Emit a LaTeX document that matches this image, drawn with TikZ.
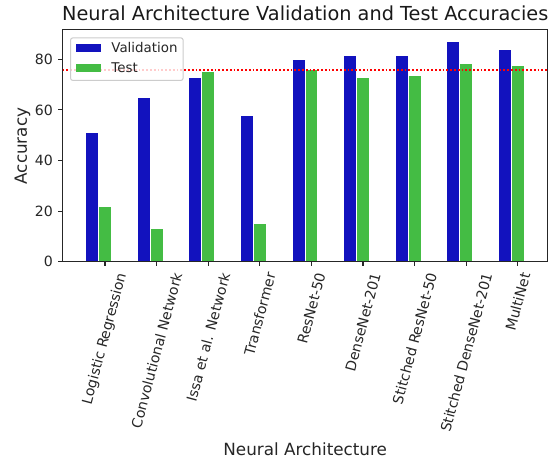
\documentclass[tikz,border=0pt]{standalone}
\usepackage{fontspec}
\setmainfont{DejaVu Sans}
\usepackage{xcolor}
\usetikzlibrary{positioning}

\definecolor{valblue}{RGB}{18,18,190}
\definecolor{testgreen}{RGB}{68,188,68}

\begin{document}
\begin{tikzpicture}[x=51.6pt, y=2.53pt,
    valbar/.style={fill=valblue, draw=white, line width=0.9pt},
    testbar/.style={fill=testgreen, draw=white, line width=0.9pt},
    axline/.style={line width=1.07pt, black!85},
    ticklab/.style={inner sep=0pt, text=black!85, font=\fontsize{14.1}{16}\selectfont},
    axlab/.style={inner sep=0pt, text=black!85, font=\fontsize{16.8}{20}\selectfont},
    legpatch/.style={minimum width=24.7pt, minimum height=7.4pt, inner sep=0pt},
    legtext/.style={inner sep=0pt, text=black!85, font=\fontsize{13.4}{16}\selectfont}]
    \useasboundingbox (-105pt,-198.3pt) rectangle (448pt,261.7pt);

    % validation bars (left) and test bars (right)
    \draw[valbar] (-0.375,0) rectangle (-0.125,51);
    \draw[testbar] (-0.125,0) rectangle (0.125,22);
    \draw[valbar] (0.625,0) rectangle (0.875,65);
    \draw[testbar] (0.875,0) rectangle (1.125,13);
    \draw[valbar] (1.625,0) rectangle (1.875,73);
    \draw[testbar] (1.875,0) rectangle (2.125,75);
    \draw[valbar] (2.625,0) rectangle (2.875,58);
    \draw[testbar] (2.875,0) rectangle (3.125,15);
    \draw[valbar] (3.625,0) rectangle (3.875,80);
    \draw[testbar] (3.875,0) rectangle (4.125,75.8);
    \draw[valbar] (4.625,0) rectangle (4.875,81.5);
    \draw[testbar] (4.875,0) rectangle (5.125,73);
    \draw[valbar] (5.625,0) rectangle (5.875,81.5);
    \draw[testbar] (5.875,0) rectangle (6.125,73.5);
    \draw[valbar] (6.625,0) rectangle (6.875,87);
    \draw[testbar] (6.875,0) rectangle (7.125,78.5);
    \draw[valbar] (7.625,0) rectangle (7.875,84);
    \draw[testbar] (7.875,0) rectangle (8.125,77.5);

    % dotted reference line
    \coordinate (refL) at (-0.82,75.6);
    \coordinate (refR) at (8.58,75.6);
    \draw[red, line width=1.9pt, dash pattern=on 1.7pt off 2.1pt] (refL) -- (refR);

    % frame
    \coordinate (ll) at (-0.82,0);
    \coordinate (ur) at (8.58,91.6);
    \draw[axline] (ll) rectangle (ur);

    % y ticks
    \draw[axline] (-0.82,0) -- ++(-4.7pt,0) node[ticklab, left=4.7pt] (y0) {0};
    \draw[axline] (-0.82,20) -- ++(-4.7pt,0) node[ticklab, left=4.7pt] (y20) {20};
    \draw[axline] (-0.82,40) -- ++(-4.7pt,0) node[ticklab, left=4.7pt] (y40) {40};
    \draw[axline] (-0.82,60) -- ++(-4.7pt,0) node[ticklab, left=4.7pt] (y60) {60};
    \draw[axline] (-0.82,80) -- ++(-4.7pt,0) node[ticklab, left=4.7pt] (y80) {80};

    % x ticks
    \draw[axline] (0,0) -- ++(0,-4.7pt) node[ticklab, below=4.7pt] (logreg) {\rotatebox{75}{Logistic Regression}};
    \draw[axline] (1,0) -- ++(0,-4.7pt) node[ticklab, below=4.7pt] (convnet) {\rotatebox{75}{Convolutional Network}};
    \draw[axline] (2,0) -- ++(0,-4.7pt) node[ticklab, below=4.7pt] (issa) {\rotatebox{75}{Issa et al. Network}};
    \draw[axline] (3,0) -- ++(0,-4.7pt) node[ticklab, below=4.7pt] (transf) {\rotatebox{75}{Transformer}};
    \draw[axline] (4,0) -- ++(0,-4.7pt) node[ticklab, below=4.7pt] (resnet) {\rotatebox{75}{ResNet-50}};
    \draw[axline] (5,0) -- ++(0,-4.7pt) node[ticklab, below=4.7pt] (densenet) {\rotatebox{75}{DenseNet-201}};
    \draw[axline] (6,0) -- ++(0,-4.7pt) node[ticklab, below=4.7pt] (stresnet) {\rotatebox{75}{Stitched ResNet-50}};
    \draw[axline] (7,0) -- ++(0,-4.7pt) node[ticklab, below=4.7pt] (stdensenet) {\rotatebox{75}{Stitched DenseNet-201}};
    \draw[axline] (8,0) -- ++(0,-4.7pt) node[ticklab, below=4.7pt] (multinet) {\rotatebox{75}{MultiNet}};

    % legend
    \node[draw=black!20, line width=1pt, fill=white, fill opacity=0.8, rounded corners=2.5pt,
          minimum width=112.7pt, minimum height=42.7pt, anchor=north west] (legend) at (-35pt,224.4pt) {};
    \node[legpatch, fill=valblue] (legval) at (-16.65pt,213.7pt) {};
    \node[legtext, right=10.3pt of legval] (legvaltext) {Validation};
    \node[legpatch, fill=testgreen] (legtest) at (-16.65pt,193.7pt) {};
    \node[legtext, right=10.3pt of legtest] (legtesttext) {Test};

    % title and axis labels
    \node[inner sep=0pt, text=black!90, font=\fontsize{19.3}{23}\selectfont, anchor=base] (title) at (200.2pt,240.7pt) {Neural Architecture Validation and Test Accuracies};
    \node[axlab, anchor=base] (xlab) at (200.2pt,-193.8pt) {Neural Architecture};
    \node[axlab, rotate=90, anchor=base] (ylab) at (-78pt,115.7pt) {Accuracy};
\end{tikzpicture}
\end{document}
